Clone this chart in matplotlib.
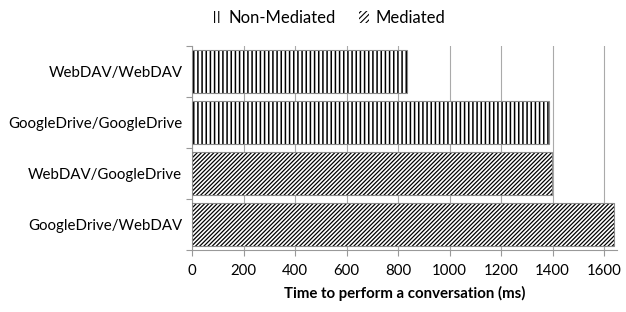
import matplotlib
matplotlib.use("Agg")
import matplotlib.pyplot as plt
import numpy as np
from matplotlib.patches import Patch

categories = ["WebDAV/WebDAV", "GoogleDrive/GoogleDrive", "WebDAV/GoogleDrive", "GoogleDrive/WebDAV"]
values = [833, 1386, 1397, 1638]
series = ["Non-Mediated", "Non-Mediated", "Mediated", "Mediated"]
xticks = [0, 200, 400, 600, 800, 1000, 1200, 1400, 1600]

plt.rcParams['font.family'] = ['Lato', 'DejaVu Sans']

fig = plt.figure(figsize=(6.26, 3.12), dpi=100)
ax = fig.add_axes([192/626, 1-250/312, (617-192)/626, (250-46)/312])

hatch_map = {"Non-Mediated": "||||", "Mediated": "////////"}
hatch_lw = {"Non-Mediated": 1.1, "Mediated": 0.9}
y = np.arange(len(categories))
for i, (v, s) in enumerate(zip(values, series)):
    plt.rcParams['hatch.linewidth'] = hatch_lw[s]
    ax.barh(y[i], v, height=0.85, color='white', edgecolor='black',
            hatch=hatch_map[s], linewidth=0, zorder=3)
    ax.barh(y[i], v, height=0.85, color='none', edgecolor='#8a8a8a',
            linewidth=0.8, zorder=4)

ax.set_ylim(len(categories) - 0.5, -0.5)
ax.set_xlim(0, 1650)
ax.set_yticks(y)
ax.set_yticklabels(categories, fontsize=10.8)
ax.set_yticks(np.arange(-0.5, len(categories)), minor=True)
ax.tick_params(axis='y', which='major', length=0, pad=7)
ax.tick_params(axis='y', which='minor', length=4, color='#999999', width=0.8)
ax.set_xticks(xticks)
ax.set_xticklabels([str(t) for t in xticks], fontsize=10.8)
ax.tick_params(axis='x', length=4, color='#999999', width=0.8, pad=6)
ax.grid(axis='x', color='#aaaaaa', linewidth=0.8, zorder=0)
ax.set_axisbelow(True)
for sp in ['top', 'right']:
    ax.spines[sp].set_visible(False)
for sp in ['left', 'bottom']:
    ax.spines[sp].set_color('#999999')
    ax.spines[sp].set_linewidth(0.8)

ax.set_xlabel("Time to perform a conversation (ms)", fontsize=10.8, fontweight='bold', labelpad=6)

plt.rcParams['hatch.linewidth'] = 0.8
handles = [Patch(facecolor='white', edgecolor='black', linewidth=0, hatch=h, label=s)
           for s, h in [("Non-Mediated", "||||"), ("Mediated", "//////")]]
fig.legend(handles=handles, loc='center', bbox_to_anchor=(329/626, 1-18/312), ncol=2,
           frameon=False, fontsize=12, handlelength=0.55, handleheight=0.7,
           handletextpad=0.4, columnspacing=1.4)

fig.savefig("out.png", dpi=100)
